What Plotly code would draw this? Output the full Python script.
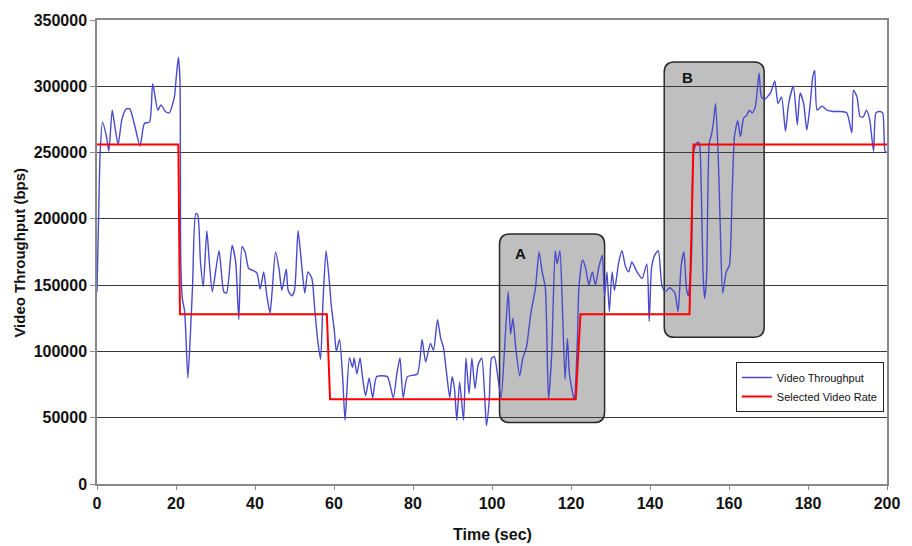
import plotly.graph_objects as go

# ---------------- data ----------------
time_sec = [0, 0.4, 0.8, 1.4, 2.4, 3.0, 3.85, 4.5, 5.35, 6.3, 7.4, 8.3, 9.5, 10.9, 12.0, 13.3, 14.1, 15.4,
            16.2, 17.3, 18.3, 19.6, 20.1, 20.6, 21.0, 21.2, 21.6, 22.2, 23.0, 23.6, 24.2, 25.0, 25.5, 26.2,
            26.9, 27.8, 28.4, 29.2, 30.9, 32.1, 32.8, 34.2, 35.1, 35.9, 36.7, 37.5, 38.4, 39.6, 40.5, 41.3,
            42.2, 43.0, 43.8, 44.3, 45.2, 46.1, 46.8, 47.9, 48.4, 49.3, 50.0, 50.9, 51.7, 52.6, 53.4, 54.4,
            55.1, 55.9, 56.6, 57.2, 58.0, 58.9, 59.3, 60.1, 60.6, 61.4, 62.2, 62.8, 63.9, 64.7, 65.1, 65.8,
            66.6, 67.2, 68.0, 68.9, 69.8, 70.8, 73.5, 75.0, 76.0, 76.7, 77.5, 78.6, 81.1, 82.3, 83.2, 84.4,
            85.2, 86.2, 87.0, 87.7, 88.6, 89.3, 89.9, 90.5, 91.1, 91.8, 92.8, 93.4, 94.2, 94.9, 95.7, 96.5,
            97.4, 98.2, 98.6, 99.3, 99.9, 100.6, 101.5, 102.3, 103.2, 104.1, 104.7, 105.3, 106.0, 107.0,
            107.8, 108.7, 109.9, 111.0, 111.9, 112.7, 113.5, 114.3, 115.1, 116.0, 116.5, 117.2, 117.8,
            118.5, 119.1, 119.6, 120.8, 121.6, 122.0, 122.9, 123.7, 124.5, 125.4, 126.2, 127.0, 127.9,
            128.5, 129.1, 129.7, 130.4, 131.0, 132.1, 132.9, 133.8, 134.6, 135.4, 136.7, 138.0, 139.2,
            139.8, 140.4, 141.2, 142.1, 143.0, 143.8, 145.0, 146.3, 147.1, 147.9, 148.6, 149.2, 149.7,
            150.5, 151.0, 151.6, 152.2, 152.6, 153.0, 153.4, 153.8, 154.3, 155.0, 155.6, 156.1, 156.6,
            157.3, 157.8, 158.4, 159.3, 160.1, 160.8, 161.4, 162.2, 162.9, 163.7, 164.5, 165.1, 165.9,
            166.7, 167.6, 168.2, 169.0, 169.7, 170.5, 171.6, 172.4, 173.3, 174.3, 175.1, 176.3, 177.3,
            178.0, 178.9, 179.7, 180.5, 181.2, 181.7, 182.3, 183.5, 184.8, 186.4, 188.1, 189.8, 191.1,
            191.5, 192.4, 193.2, 194.0, 194.8, 195.6, 196.6, 197.2, 198.1, 198.9, 199.5, 200]

video_throughput = [145000, 200000, 250000, 273000, 262000, 251000, 282000, 270000, 256000, 275000, 283000,
                    283000, 271000, 255000, 272000, 273000, 302000, 282000, 286000, 281000, 280000, 292000,
                    308000, 322000, 305000, 170000, 140000, 130000, 80000, 110000, 150000, 204000, 203000,
                    167500, 149000, 191000, 169000, 145000, 176000, 145000, 144000, 180000, 167500, 124000,
                    179000, 175000, 162500, 161000, 159000, 147000, 160000, 142000, 129000, 144000, 175000,
                    162000, 146000, 162000, 146000, 142000, 146000, 191000, 169000, 144000, 160000, 155000,
                    132600, 107700, 94000, 137000, 176000, 150000, 135000, 115000, 100000, 109000, 80000,
                    48000, 95000, 88000, 95000, 83000, 95000, 81000, 66500, 80000, 65000, 81000, 81000,
                    65000, 85000, 95000, 65000, 81000, 83000, 109000, 92000, 106000, 101000, 124000, 110000,
                    103000, 81000, 65000, 81000, 72000, 48000, 77000, 48000, 95000, 68000, 95000, 72000,
                    90000, 95000, 63000, 44000, 63000, 95000, 96000, 80000, 65000, 103000, 145000, 113000,
                    125000, 103000, 81500, 95000, 103000, 130000, 147600, 175000, 160000, 148000, 64000,
                    97000, 176000, 166000, 176000, 135000, 79000, 110000, 83000, 64000, 107000, 148000,
                    169000, 163000, 150000, 160000, 150000, 163000, 172600, 142000, 160000, 130000, 160000,
                    146000, 167500, 176000, 164000, 160000, 167500, 160000, 155000, 166000, 122600, 163000,
                    172600, 176000, 150000, 145000, 148000, 144000, 130000, 165000, 175000, 148000, 142000,
                    172000, 250000, 256000, 258000, 255000, 220000, 162000, 140000, 155000, 257000, 264000,
                    274000, 287000, 245000, 192000, 144000, 160000, 165000, 220000, 262500, 274000, 262000,
                    276000, 278000, 282000, 280000, 285000, 310000, 292000, 290000, 292000, 295000, 304000,
                    287000, 292000, 266000, 287000, 300000, 271000, 295000, 287000, 267000, 285000, 307000,
                    312000, 282000, 285000, 282000, 281000, 281000, 280000, 265000, 297000, 292000, 277000,
                    277000, 282000, 275000, 251000, 280000, 281000, 280000, 251000, 250000]

rate_time = [0, 20.6, 21.0, 58.2, 59.0, 121.2, 122.4, 150.0, 151.0, 200]
selected_rate = [256000, 256000, 128000, 128000, 64000, 64000, 128000, 128000, 256000, 256000]

x_ticks = [0, 20, 40, 60, 80, 100, 120, 140, 160, 180, 200]
y_ticks = [0, 50000, 100000, 150000, 200000, 250000, 300000, 350000]

# highlight boxes: label, t0, t1, v0, v1, label position
box_labels = ["A", "B"]
box_t0 = [101.9, 143.6]
box_t1 = [128.5, 168.9]
box_v0 = [46400, 110700]
box_v1 = [188500, 318400]
label_t = [107.3, 149.6]
label_v = [173500, 306700]

FONT = "Liberation Sans, Arial, sans-serif"

fig = go.Figure()
fig.add_trace(go.Scatter(x=time_sec, y=video_throughput, mode="lines", name="Video Throughput",
                         line=dict(color="#4A4ACC", width=1.4, shape="spline", smoothing=0.6)))
fig.add_trace(go.Scatter(x=rate_time, y=selected_rate, mode="lines", name="Selected Video Rate",
                         line=dict(color="#FF0000", width=2)))


def rounded_path(x0, x1, y0, y1, rx, ry):
    return (f"M {x0 + rx},{y0} L {x1 - rx},{y0} Q {x1},{y0} {x1},{y0 + ry} "
            f"L {x1},{y1 - ry} Q {x1},{y1} {x1 - rx},{y1} "
            f"L {x0 + rx},{y1} Q {x0},{y1} {x0},{y1 - ry} "
            f"L {x0},{y0 + ry} Q {x0},{y0} {x0 + rx},{y0} Z")


for lab, t0, t1, v0, v1, lt, lv in zip(box_labels, box_t0, box_t1, box_v0, box_v1, label_t, label_v):
    fig.add_shape(type="path", path=rounded_path(t0, t1, v0, v1, 2.6, 7800), xref="x", yref="y",
                  fillcolor="#BFBFBF", line=dict(color="#2A2A2A", width=1.5), layer="below")
    fig.add_annotation(x=lt, y=lv, text=f"<b>{lab}</b>", showarrow=False, xref="x", yref="y",
                       font=dict(family=FONT, size=15, color="#111111"))

# axis titles as annotations
fig.add_annotation(text="<b>Video Throughput (bps)</b>", xref="paper", yref="paper",
                   x=(19 - 97) / 797, y=0.498, textangle=-90, showarrow=False,
                   xanchor="center", yanchor="middle",
                   font=dict(family=FONT, size=15, color="#111111"))
fig.add_annotation(text="<b>Time (sec)</b>", xref="paper", yref="paper",
                   x=0.5006, y=(484 - 535) / 468, showarrow=False, xanchor="center", yanchor="middle",
                   font=dict(family=FONT, size=16, color="#111111"))

fig.update_layout(
    width=912, height=546,
    margin=dict(l=97, r=18, t=16, b=62),
    paper_bgcolor="white", plot_bgcolor="white",
    font=dict(family=FONT, color="#111111"),
    showlegend=True,
    legend=dict(x=0.996, y=0.263, xanchor="right", yanchor="top",
                bgcolor="white", bordercolor="#222222", borderwidth=1,
                font=dict(family=FONT, size=11, color="#111111"),
                tracegroupgap=0, itemwidth=30),
)
fig.update_xaxes(range=[0, 200], tickvals=x_ticks, ticks="outside", ticklen=4, tickcolor="#888888",
                 showgrid=False, showline=True, linecolor="#888888", linewidth=1.5, mirror=True,
                 zeroline=False, tickfont=dict(family=FONT, size=16, weight="bold", color="#111111"))
fig.update_yaxes(range=[0, 350000], tickvals=y_ticks, tickformat="d", ticks="outside", ticklen=5,
                 tickcolor="#888888", showgrid=True, gridcolor="#3A3A3A", gridwidth=1,
                 showline=True, linecolor="#888888", linewidth=1.5, mirror=True, zeroline=False,
                 tickfont=dict(family=FONT, size=16, weight="bold", color="#111111"))

fig.write_html("out.html")
